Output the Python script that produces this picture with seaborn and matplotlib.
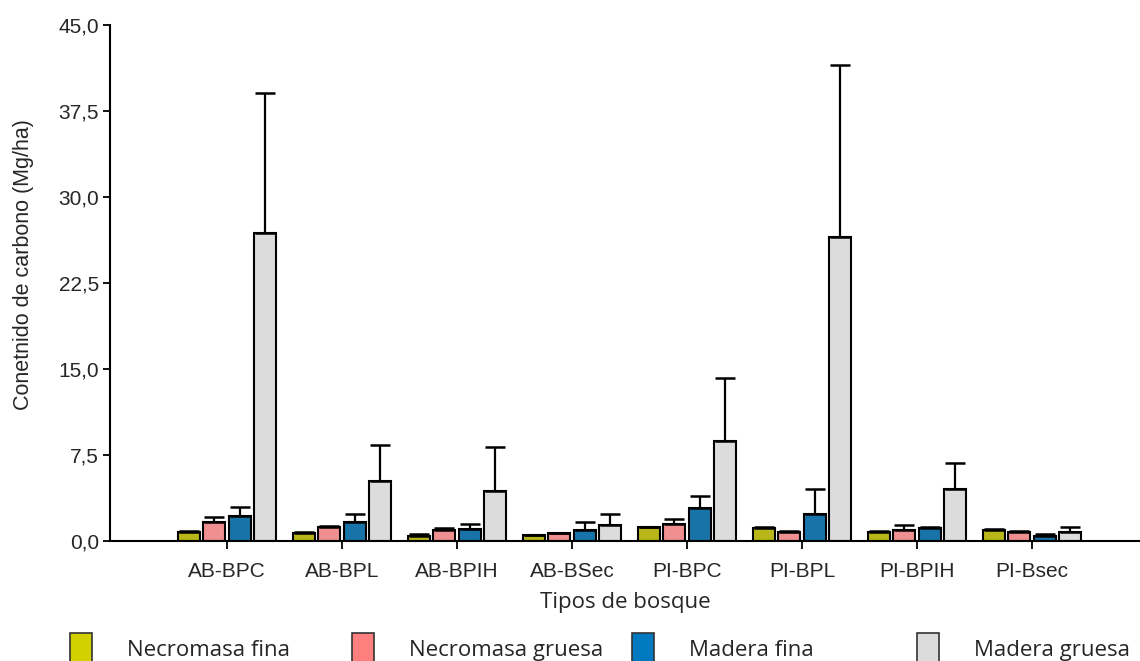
import matplotlib
matplotlib.use("Agg")
import matplotlib.pyplot as plt
import seaborn as sns
import pandas as pd
from matplotlib.patches import Patch

# Forest types on the x axis
bosques = ["AB-BPC", "AB-BPL", "AB-BPIH", "AB-BSec", "PI-BPC", "PI-BPL", "PI-BPIH", "PI-Bsec"]

# Carbon pools (legend order)
componentes = ["Necromasa fina", "Necromasa gruesa", "Madera fina", "Madera gruesa"]
colores = ["#D3D000", "#FF7F7F", "#0079C1", "#DCDCDC"]

# Mean carbon content (Mg/ha) for each pool across forest types
necromasa_fina = [0.80, 0.67, 0.47, 0.50, 1.20, 1.13, 0.81, 0.99]
necromasa_gruesa = [1.70, 1.20, 1.00, 0.67, 1.50, 0.76, 0.99, 0.78]
madera_fina = [2.20, 1.70, 1.05, 1.00, 2.90, 2.40, 1.16, 0.47]
madera_gruesa = [26.9, 5.20, 4.36, 1.37, 8.70, 26.5, 4.50, 0.81]

# Upper error (Mg/ha) for each pool
err_necromasa_fina = [0.10, 0.10, 0.10, 0.05, 0.05, 0.10, 0.05, 0.10]
err_necromasa_gruesa = [0.40, 0.10, 0.10, 0.05, 0.40, 0.10, 0.38, 0.10]
err_madera_fina = [0.75, 0.70, 0.45, 0.70, 1.05, 2.10, 0.10, 0.10]
err_madera_gruesa = [12.15, 3.20, 3.84, 1.03, 5.50, 15.0, 2.30, 0.38]

# Axis ticks
yticks = [0.0, 7.5, 15.0, 22.5, 30.0, 37.5, 45.0]
ytick_labels = ["0,0", "7,5", "15,0", "22,5", "30,0", "37,5", "45,0"]

valores = [necromasa_fina, necromasa_gruesa, madera_fina, madera_gruesa]
errores = [err_necromasa_fina, err_necromasa_gruesa, err_madera_fina, err_madera_gruesa]

rows = []
for comp, vals, errs in zip(componentes, valores, errores):
    for b, v, e in zip(bosques, vals, errs):
        rows.append({"Tipo": b, "Componente": comp, "Carbono": v, "Error": e})
df = pd.DataFrame(rows)

sns.set_style("white")
plt.rcParams["font.family"] = ["Liberation Sans", "DejaVu Sans"]

fig = plt.figure(figsize=(11.4, 6.61), dpi=100)
ax = fig.add_axes([0.0965, 0.1815, 0.9035, 0.7805])

sns.barplot(
    data=df, x="Tipo", y="Carbono", hue="Componente",
    order=bosques, hue_order=componentes, palette=colores,
    width=0.89, gap=0.14, errorbar=None,
    edgecolor="black", linewidth=1.5, legend=False, ax=ax,
)

# One-sided (upper) error bars drawn at each bar's position
for container, comp in zip(ax.containers, componentes):
    sub = df[df["Componente"] == comp].set_index("Tipo").loc[bosques]
    for patch, v, e in zip(container.patches, sub["Carbono"], sub["Error"]):
        xc = patch.get_x() + patch.get_width() / 2
        ax.errorbar(xc, v, yerr=[[0], [e]], fmt="none", ecolor="black",
                    elinewidth=1.6, capsize=7.5, capthick=1.8, zorder=1)

ax.set_xlim(-1.017, 7.94)
ax.set_ylim(0, 45)
ax.set_yticks(yticks)
ax.set_yticklabels(ytick_labels, fontsize=15)
ax.set_xticks(range(len(bosques)))
ax.set_xticklabels(bosques, fontsize=15)

for s in ["top", "right"]:
    ax.spines[s].set_visible(False)
for s in ["left", "bottom"]:
    ax.spines[s].set_color("black")
    ax.spines[s].set_linewidth(1.5)

ax.tick_params(axis="y", which="major", direction="out", length=5, width=1.3,
               color="black", left=True, pad=3, labelcolor="#262626")
ax.tick_params(axis="x", which="major", direction="out", length=6, width=1.3,
               color="black", bottom=True, pad=9, labelcolor="#262626")

ax.set_xlabel("Tipos de bosque", fontsize=16, family=["Open Sans", "DejaVu Sans"],
              labelpad=8, color="#262626")
ax.set_ylabel("Conetnido de carbono (Mg/ha)", fontsize=15.5, color="#262626")
ax.yaxis.set_label_coords(-0.0738, 0.535)

# Legend entries spread evenly along the bottom
leg_x = [70, 352, 632, 917]
for comp, col, xp in zip(componentes, colores, leg_x):
    h = Patch(facecolor=col, edgecolor="#333333", linewidth=1.2)
    fig.legend(handles=[h], labels=[comp], loc="center left",
               bbox_to_anchor=(xp / 1140, 1 - 649 / 661), frameon=False,
               borderpad=0, borderaxespad=0, handlelength=1.0, handleheight=1.85,
               handletextpad=1.58,
               prop={"family": ["Open Sans", "DejaVu Sans"], "size": 16})

fig.savefig("out.png", dpi=100)
